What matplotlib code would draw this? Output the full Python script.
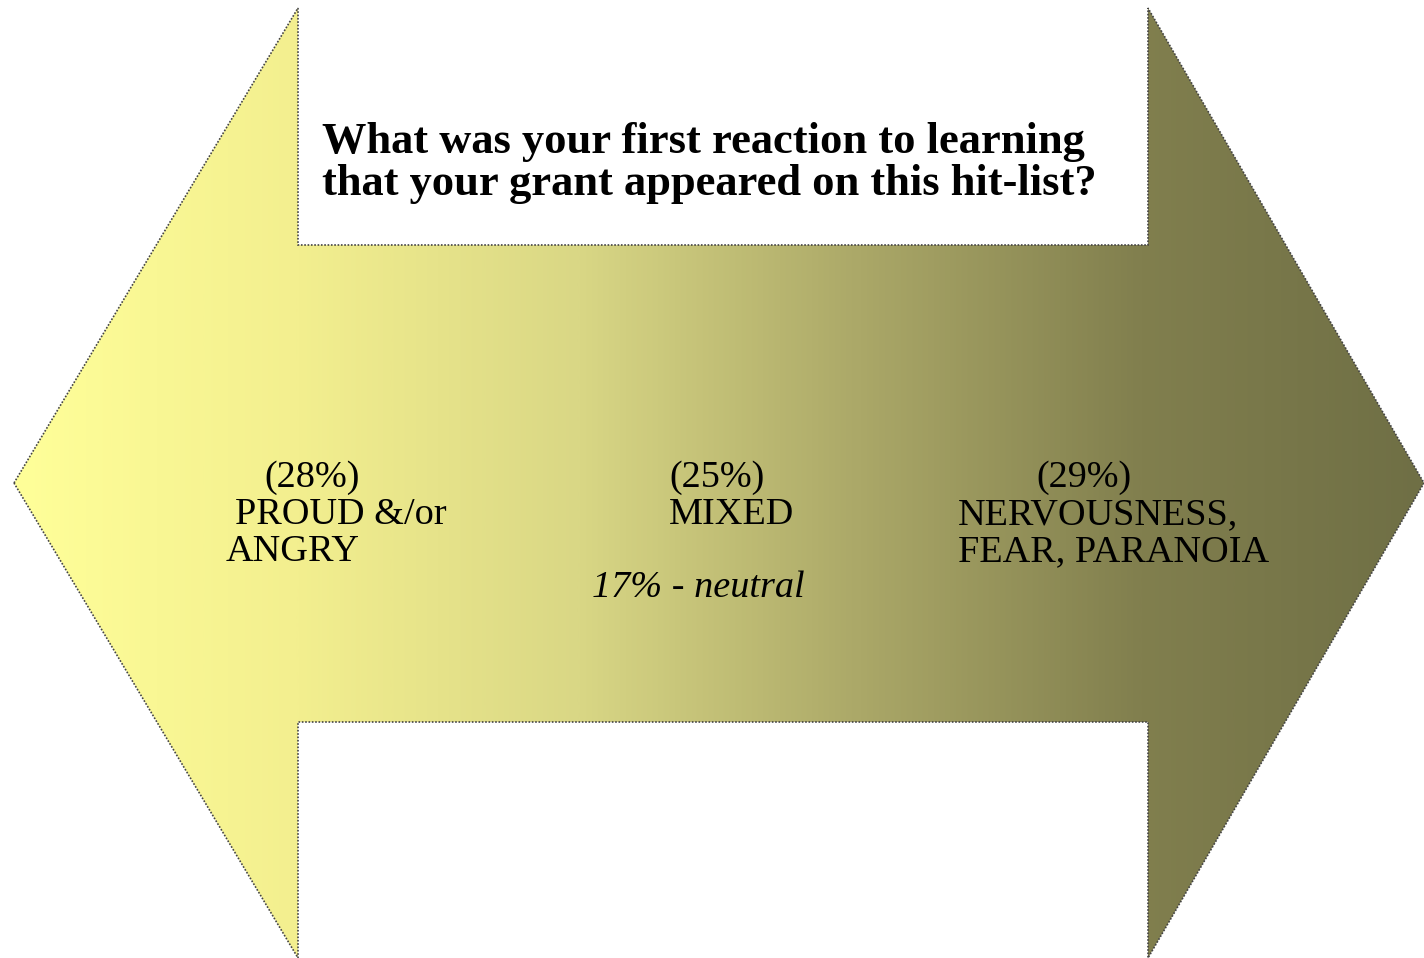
import numpy as np
import matplotlib.pyplot as plt
from matplotlib.patches import Polygon
from matplotlib.colors import LinearSegmentedColormap

# Survey: first reaction to learning the grant was on the hit-list
title = "What was your first reaction to learning\nthat your grant appeared on this hit-list?"
shares = ["(28%)", "(25%)", "(29%)"]
reactions = [["PROUD &/or", "ANGRY"], ["MIXED"], ["NERVOUSNESS,", "FEAR, PARANOIA"]]
neutral = "17% - neutral"

# layout in pixel coordinates (y down)
W, H = 1424, 958
fig = plt.figure(figsize=(W / 100, H / 100), dpi=100)
ax = fig.add_axes([0, 0, 1, 1])
ax.set_xlim(0, W)
ax.set_ylim(H, 0)
ax.axis('off')

# double-headed arrow outline
outline = [(14, 483), (298, 8), (298, 245), (1148, 245), (1148, 8),
           (1424, 483), (1148, 958), (1148, 722), (298, 722), (298, 958)]
arrow = Polygon(outline, closed=True, facecolor='none', edgecolor='#444444',
                linewidth=1.2, linestyle=(0, (1, 1)), zorder=3)
ax.add_patch(arrow)

# horizontal gradient clipped to the arrow
cmap = LinearSegmentedColormap.from_list('grad', ['#FFFF99', '#F3EF8F', '#D9D785',
                                                  '#ABA868', '#817F4E', '#6F6F45'])
grad = np.linspace(0, 1, 512).reshape(1, -1)
img = ax.imshow(grad, cmap=cmap, extent=[14, 1424, H, 0], aspect='auto', zorder=1)
img.set_clip_path(arrow)

# question
ax.text(322, 163, title, fontsize=32, fontweight='bold', family='Liberation Serif',
        ha='left', va='center', linespacing=1.05, zorder=4)

# answer groups: x of each line, y of each line
body = dict(fontsize=27.5, family='Liberation Serif', va='center', ha='left', zorder=4)
share_x = [264, 669, 1036]
label_x = [[235, 226], [669], [958, 958]]
for i in range(3):
    ax.text(share_x[i], 478, shares[i], **body)
    for j, line in enumerate(reactions[i]):
        ax.text(label_x[i][j], 515 + 37 * j, line, **body)

ax.text(592, 588, neutral, style='italic', **body)

fig.savefig('out.png', dpi=100)
